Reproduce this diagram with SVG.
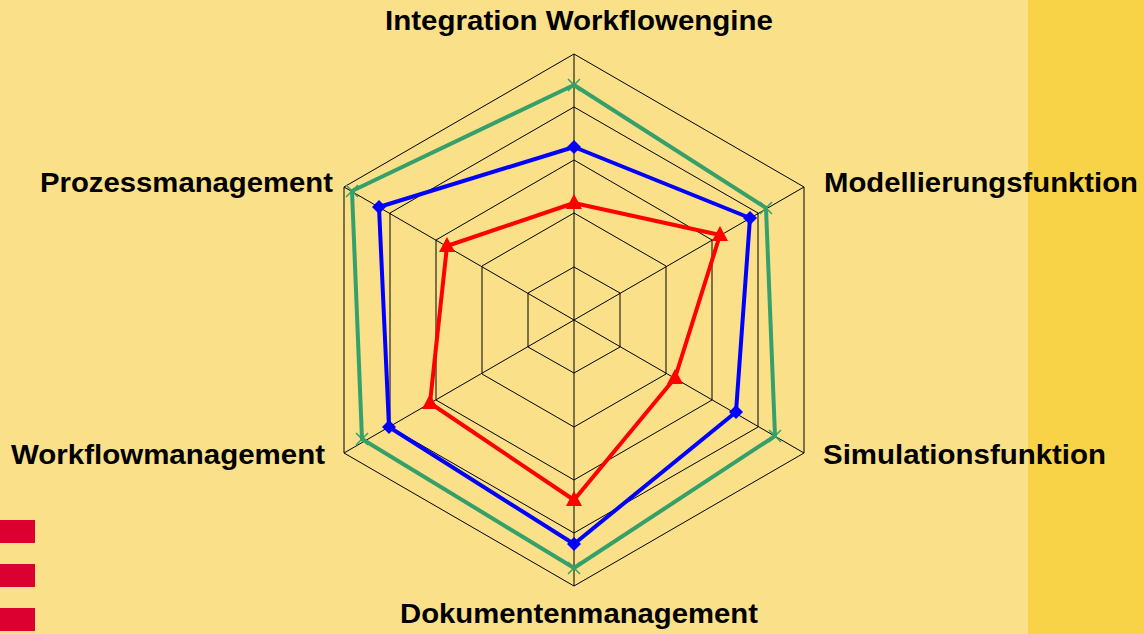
<svg xmlns="http://www.w3.org/2000/svg" width="1144" height="634" viewBox="0 0 1144 634">
<style>
.grid{fill:none;stroke:#000;stroke-width:1}
.lbl{font-family:"Liberation Sans",Arial,sans-serif;font-weight:bold;font-size:28px;fill:#000}
.s{fill:none;stroke-width:4;stroke-linejoin:round}
</style>
<defs>
<marker id="mx" viewBox="-8 -8 16 16" markerWidth="16" markerHeight="16" markerUnits="userSpaceOnUse" refX="0" refY="0"><path d="M-6,-6L6,6M-6,6L6,-6" stroke="#35a06a" stroke-width="1.5"/></marker>
<marker id="md" viewBox="-8 -8 16 16" markerWidth="16" markerHeight="16" markerUnits="userSpaceOnUse" refX="0" refY="0"><path d="M0,-7L7,0L0,7L-7,0Z" fill="#0000ff"/></marker>
<marker id="mt" viewBox="-9 -9 18 18" markerWidth="18" markerHeight="18" markerUnits="userSpaceOnUse" refX="0" refY="0"><path d="M0,-9L8,6L-8,6Z" fill="#ff0000"/></marker>
</defs>
<rect x="0" y="0" width="1144" height="634" fill="#fbe08a"/>
<rect x="1028" y="0" width="116" height="634" fill="#f8d348"/>
<g id="legend-marks" fill="#dc0030">
<rect x="0" y="520" width="35" height="23"/>
<rect x="0" y="564" width="35" height="23"/>
<rect x="0" y="608" width="35" height="23"/>
</g>
<g id="grid" class="grid">
<polygon points="574,54 804,187 804,453 574,586 344,453 344,187"/>
<polygon points="574,107 758,213 758,427 574,533 390,427 390,213"/>
<polygon points="574,160 712,240 712,400 574,480 436,400 436,240"/>
<polygon points="574,213 666,266 666,374 574,427 482,374 482,266"/>
<polygon points="574,267 620,293 620,347 574,373 528,347 528,293"/>
<path d="M574,320L574,54M574,320L804,187M574,320L804,453M574,320L574,586M574,320L344,453M574,320L344,187"/>
</g>
<g id="series">
<polygon id="s-green" class="s" stroke="#35a06a" points="574,85 766,208 775,436 574,568 362,439 352,191" marker-start="url(#mx)" marker-mid="url(#mx)"/>
<polygon id="s-blue" class="s" stroke="#0000ff" points="574,147 750,218 736,412 574,544 389,427 379,207" marker-start="url(#md)" marker-mid="url(#md)"/>
<polygon id="s-red" class="s" stroke="#ff0000" points="574,203 720,235 675,378 574,500 430,403 447,246" marker-start="url(#mt)" marker-mid="url(#mt)"/>
</g>
<g id="labels">
<text id="l1" class="lbl" x="385" y="30" textLength="388" lengthAdjust="spacingAndGlyphs">Integration Workflowengine</text>
<text id="l2" class="lbl" x="824" y="192" textLength="314" lengthAdjust="spacingAndGlyphs">Modellierungsfunktion</text>
<text id="l3" class="lbl" x="823" y="464" textLength="283" lengthAdjust="spacingAndGlyphs">Simulationsfunktion</text>
<text id="l4" class="lbl" x="400" y="623" textLength="358" lengthAdjust="spacingAndGlyphs">Dokumentenmanagement</text>
<text id="l5" class="lbl" x="11" y="464" textLength="314" lengthAdjust="spacingAndGlyphs">Workflowmanagement</text>
<text id="l6" class="lbl" x="40" y="192" textLength="293" lengthAdjust="spacingAndGlyphs">Prozessmanagement</text>
</g>
</svg>
